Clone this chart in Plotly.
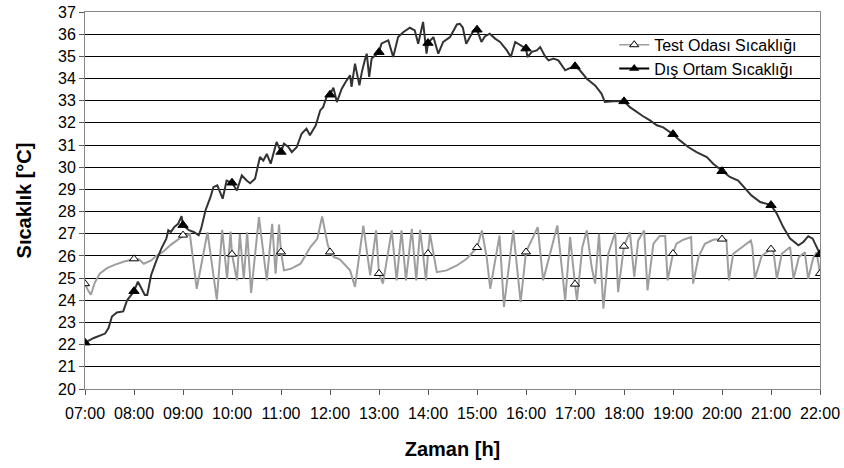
import plotly.graph_objects as go

# ---- Data (hour of day, temperature in °C) ----
hour_ticks = [7, 8, 9, 10, 11, 12, 13, 14, 15, 16, 17, 18, 19, 20, 21, 22]
tick_labels = ["07:00", "08:00", "09:00", "10:00", "11:00", "12:00", "13:00", "14:00",
               "15:00", "16:00", "17:00", "18:00", "19:00", "20:00", "21:00", "22:00"]

# hourly marker values
test_hourly = [24.75, 25.87, 26.94, 26.08, 26.18, 26.18, 25.21, 26.11,
               26.38, 26.18, 24.73, 26.44, 26.11, 26.76, 26.31, 25.21]
out_hourly = [22.09, 24.41, 27.39, 29.30, 30.69, 33.27, 35.19, 35.60,
              36.20, 35.35, 34.55, 32.97, 31.49, 29.82, 28.29, 26.08]

# Test room temperature trace
test_time = [7.00, 7.05, 7.12, 7.20, 7.30, 7.45, 7.60, 7.80, 8.00, 8.10, 8.20, 8.35, 8.45,
             8.60, 8.75, 8.90, 9.00, 9.14, 9.28, 9.50, 9.69, 9.80, 9.90, 9.97, 10.00,
             10.10, 10.16, 10.24, 10.31, 10.39, 10.55, 10.71, 10.82, 10.89, 10.96, 11.00,
             11.06, 11.20, 11.40, 11.60, 11.74, 11.84, 11.95, 12.00, 12.08, 12.20, 12.41,
             12.51, 12.68, 12.82, 12.94, 13.00, 13.08, 13.26, 13.36, 13.46, 13.55, 13.67,
             13.76, 13.84, 13.96, 14.00, 14.04, 14.18, 14.38, 14.59, 14.79, 15.00, 15.10,
             15.20, 15.27, 15.46, 15.55, 15.74, 15.89, 16.00, 16.24, 16.35, 16.64, 16.80,
             16.90, 17.00, 17.04, 17.15, 17.24, 17.34, 17.41, 17.49, 17.58, 17.68, 17.82,
             17.88, 18.00, 18.12, 18.21, 18.29, 18.41, 18.48, 18.60, 18.73, 18.84, 18.89,
             19.00, 19.07, 19.21, 19.37, 19.41, 19.52, 19.65, 19.82, 20.00, 20.09, 20.14,
             20.23, 20.40, 20.59, 20.62, 20.67, 20.81, 21.00, 21.05, 21.12, 21.22, 21.39,
             21.46, 21.57, 21.69, 21.76, 21.86, 21.93, 22.00]
test_temp = [24.75, 24.50, 24.25, 24.80, 25.20, 25.45, 25.60, 25.75, 25.85, 25.85, 25.65, 25.80, 26.00,
             26.20, 26.50, 26.75, 26.90, 27.00, 24.52, 27.07, 24.03, 27.18, 24.97, 27.10, 26.08,
             24.90, 27.00, 24.97, 27.07, 24.33, 27.75, 24.90, 27.45, 25.20, 27.42, 26.18,
             25.35, 25.42, 25.65, 26.40, 26.77, 27.78, 26.55, 26.18, 25.95, 25.85, 25.35,
             24.60, 27.37, 25.12, 27.15, 25.21, 24.75, 27.15, 24.90, 27.15, 24.90, 27.22,
             24.90, 27.18, 24.90, 26.11, 27.00, 25.27, 25.35, 25.57, 25.87, 26.38, 27.15,
             25.90, 24.52, 26.92, 23.70, 27.15, 23.92, 26.18, 27.30, 24.90, 27.37, 24.00,
             26.85, 24.73, 24.00, 26.40, 27.15, 25.50, 24.75, 27.00, 23.62, 26.10, 27.07,
             24.37, 26.44, 27.07, 25.05, 26.70, 27.15, 24.45, 26.55, 26.90, 26.90, 24.90,
             26.11, 26.55, 26.73, 26.85, 24.75, 25.95, 26.55, 26.73, 26.76, 26.73, 24.90,
             26.10, 26.40, 26.70, 26.40, 24.97, 26.00, 26.31, 26.20, 24.97, 26.10, 26.40,
             24.97, 25.95, 26.17, 24.97, 25.90, 26.17, 25.21]

# Outdoor temperature trace
out_time = [7.00, 7.18, 7.41, 7.48, 7.55, 7.65, 7.78, 7.86, 8.00, 8.08, 8.15, 8.22, 8.27,
            8.35, 8.46, 8.56, 8.66, 8.70, 8.75, 8.82, 8.90, 8.97, 9.00, 9.12, 9.22, 9.32,
            9.37, 9.46, 9.56, 9.62, 9.70, 9.81, 9.89, 10.00, 10.10, 10.20, 10.30, 10.37,
            10.47, 10.57, 10.64, 10.71, 10.79, 10.91, 11.00, 11.06, 11.15, 11.22, 11.32,
            11.42, 11.52, 11.59, 11.71, 11.80, 11.86, 11.93, 12.00, 12.07, 12.14, 12.24,
            12.34, 12.41, 12.44, 12.51, 12.60, 12.65, 12.71, 12.75, 12.80, 12.85, 13.00,
            13.05, 13.12, 13.19, 13.29, 13.39, 13.50, 13.63, 13.73, 13.80, 13.90, 13.97,
            14.00, 14.11, 14.21, 14.31, 14.45, 14.59, 14.65, 14.71, 14.78, 14.86, 14.93,
            15.00, 15.09, 15.16, 15.26, 15.37, 15.47, 15.61, 15.69, 15.78, 15.88, 16.00,
            16.03, 16.12, 16.22, 16.29, 16.39, 16.46, 16.56, 16.66, 16.80, 16.87, 17.00,
            17.10, 17.24, 17.41, 17.54, 17.61, 17.78, 18.00, 18.12, 18.26, 18.39, 18.53,
            18.67, 18.80, 19.00, 19.14, 19.31, 19.48, 19.69, 19.82, 20.00, 20.16, 20.33,
            20.46, 20.60, 20.78, 21.00, 21.12, 21.25, 21.39, 21.56, 21.66, 21.76, 21.85,
            21.93, 22.00]
out_temp = [22.09, 22.30, 22.50, 22.75, 23.27, 23.45, 23.50, 24.00, 24.41, 24.84, 24.54, 24.24, 24.24,
            25.14, 25.81, 26.34, 26.78, 27.16, 27.08, 27.30, 27.45, 27.79, 27.39, 27.16, 27.08, 26.93,
            27.23, 28.06, 28.65, 29.10, 29.18, 28.58, 29.40, 29.30, 28.95, 29.63, 29.40, 29.28,
            29.48, 30.46, 30.30, 30.60, 30.16, 31.14, 30.69, 31.06, 30.91, 30.68, 30.90,
            31.51, 31.74, 31.44, 31.89, 32.56, 32.71, 33.17, 33.27, 33.59, 32.94, 33.54,
            33.92, 34.14, 33.62, 34.67, 33.69, 34.29, 34.82, 35.12, 34.07, 34.90, 35.19,
            35.57, 35.65, 35.72, 34.97, 35.87, 36.10, 36.29, 36.17, 35.57, 36.55, 35.12,
            35.60, 35.87, 35.12, 35.65, 35.87, 36.44, 36.47, 36.30, 35.57, 35.90, 36.17,
            36.20, 35.65, 35.90, 36.02, 35.80, 35.65, 35.27, 34.97, 35.65, 35.50, 35.35,
            34.97, 35.20, 35.27, 35.42, 35.00, 34.82, 34.90, 34.82, 34.37, 34.45, 34.55,
            34.37, 33.99, 33.69, 33.32, 32.94, 32.97, 32.97, 32.71, 32.49, 32.30, 32.11,
            31.89, 31.80, 31.49, 31.21, 30.91, 30.68, 30.46, 30.16, 29.82, 29.56, 29.40,
            29.10, 28.73, 28.43, 28.29, 27.90, 27.30, 26.78, 26.48, 26.63, 26.89, 26.78,
            26.41, 26.08]

test_name = "Test Odası Sıcaklığı"
out_name = "Dış Ortam Sıcaklığı"

GRAY = "#9e9e9e"
DARK = "#333333"

fig = go.Figure()
fig.add_trace(go.Scatter(x=test_time, y=test_temp, mode="lines",
                         line=dict(color=GRAY, width=2), showlegend=False, hoverinfo="skip"))
fig.add_trace(go.Scatter(x=out_time, y=out_temp, mode="lines",
                         line=dict(color=DARK, width=2), showlegend=False, hoverinfo="skip"))
fig.add_trace(go.Scatter(x=hour_ticks, y=test_hourly, mode="markers",
                         marker=dict(symbol="triangle-up", size=8, color="white",
                                     line=dict(color="black", width=1)),
                         showlegend=False))
fig.add_trace(go.Scatter(x=hour_ticks, y=out_hourly, mode="markers",
                         marker=dict(symbol="triangle-up", size=9, color="black",
                                     line=dict(color="black", width=1)),
                         showlegend=False))
# legend entries
fig.add_trace(go.Scatter(x=[None], y=[None], mode="lines+markers", name=test_name,
                         line=dict(color=GRAY, width=1.5),
                         marker=dict(symbol="triangle-up", size=8, color="white",
                                     line=dict(color="black", width=1))))
fig.add_trace(go.Scatter(x=[None], y=[None], mode="lines+markers", name=out_name,
                         line=dict(color="black", width=2),
                         marker=dict(symbol="triangle-up", size=9, color="black")))

fig.update_layout(
    width=844, height=468,
    margin=dict(l=85, r=24, t=12, b=79),
    paper_bgcolor="white", plot_bgcolor="white",
    font=dict(family="Liberation Sans, Arial, sans-serif", size=16, color="black"),
    showlegend=True,
    legend=dict(x=0.72, y=0.958, xanchor="left", yanchor="top",
                bgcolor="rgba(0,0,0,0)", font=dict(size=16), tracegroupgap=0),
    xaxis=dict(range=[7, 22], tickmode="array", tickvals=hour_ticks, ticktext=tick_labels,
               ticks="outside", ticklen=5, tickcolor="#555555", showgrid=False,
               ticklabelstandoff=5, automargin=False,
               showline=True, linecolor="#888888", linewidth=1, mirror=True,
               zeroline=False,
               title=dict(text="<b>Zaman [h]</b>", font=dict(size=20), standoff=20)),
    yaxis=dict(range=[20, 37], dtick=1, tick0=20, ticks="outside", ticklen=5,
               tickcolor="#555555", showgrid=True, gridcolor="black", gridwidth=1,
               automargin=False,
               showline=True, linecolor="#888888", linewidth=1, mirror=True,
               zeroline=False,
               title=dict(text="<b>Sıcaklık [°C]</b>", font=dict(size=20), standoff=21)),
)

fig.write_html("out.html")
